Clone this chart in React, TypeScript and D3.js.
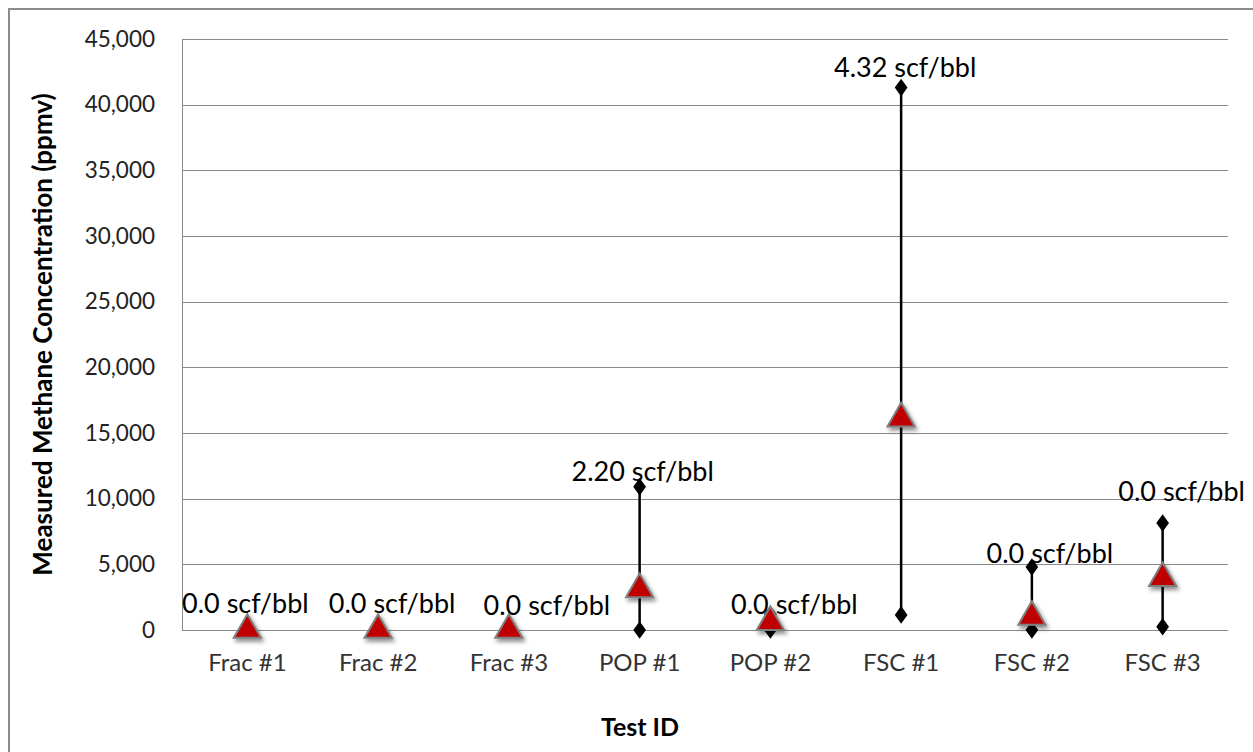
import { useEffect, useRef } from 'react';
import * as d3 from 'd3';

// chart data (ppmv)
const categories = ['Frac #1', 'Frac #2', 'Frac #3', 'POP #1', 'POP #2', 'FSC #1', 'FSC #2', 'FSC #3'];
const highValues = [0, 0, 0, 10900, 1200, 41300, 4800, 8150];
const lowValues = [0, 0, 0, 0, 0, 1150, 0, 250];
const avgValues = [0, 0, 0, 3100, 600, 16100, 1000, 3950];
const rateLabels = [
  '0.0 scf/bbl', '0.0 scf/bbl', '0.0 scf/bbl', '2.20 scf/bbl',
  '0.0 scf/bbl', '4.32 scf/bbl', '0.0 scf/bbl', '0.0 scf/bbl',
];
// where each rate label sits, in ppmv
const labelValues = [1980, 1980, 1830, 12030, 1900, 42790, 5790, 10510];
const yTicks = [0, 5000, 10000, 15000, 20000, 25000, 30000, 35000, 40000, 45000];

// manual label nudges (px), as in the original
const labelNudge = [-2, 14, 38, 3, 24, 4, 18, 19];

const FONT = 'Lato, "Open Sans", sans-serif';

const App = () => {
  const svgRef = useRef(null);

  useEffect(() => {
    const width = 1253;
    const height = 752;
    const margin = { top: 39, right: 25, bottom: 122, left: 182 };
    const svg = d3.select(svgRef.current);
    svg.selectAll('*').remove();
    svg.attr('width', width).attr('height', height);

    const defs = svg.append('defs');
    const filter = defs.append('filter').attr('id', 'shadow')
      .attr('x', '-50%').attr('y', '-50%').attr('width', '200%').attr('height', '200%');
    filter.append('feDropShadow')
      .attr('dx', 2).attr('dy', 3).attr('stdDeviation', 2)
      .attr('flood-color', '#000').attr('flood-opacity', 0.45);

    svg.append('rect').attr('width', width).attr('height', height).attr('fill', '#fff');
    // outer chart border
    svg.append('rect')
      .attr('x', 9).attr('y', 9).attr('width', width + 20).attr('height', height + 20)
      .attr('fill', 'none').attr('stroke', '#8c8c8c').attr('stroke-width', 2);

    const chartW = width - margin.left - margin.right;
    const chartH = height - margin.top - margin.bottom;

    const x = d3.scaleBand().domain(categories).range([0, chartW]);
    const y = d3.scaleLinear().domain([0, 45000]).range([chartH, 0]);

    const g = svg.append('g').attr('transform', `translate(${margin.left},${margin.top})`);

    // gridlines
    g.selectAll('.grid').data(yTicks).enter().append('line')
      .attr('x1', 0).attr('x2', chartW)
      .attr('y1', (d) => Math.round(y(d)) + 0.5).attr('y2', (d) => Math.round(y(d)) + 0.5)
      .attr('stroke', '#8a8a8a').attr('stroke-width', 1);
    g.append('line')
      .attr('x1', 0.5).attr('x2', 0.5).attr('y1', 0).attr('y2', chartH)
      .attr('stroke', '#8a8a8a');

    // y axis labels
    const yAxis = g.append('g').call(
      d3.axisLeft(y).tickValues(yTicks).tickSize(0).tickPadding(27).tickFormat(d3.format(','))
    );
    yAxis.select('.domain').remove();
    yAxis.selectAll('text')
      .attr('font-family', FONT).attr('font-size', 22.5).attr('fill', '#222');

    // x axis labels
    const xAxis = g.append('g').attr('transform', `translate(0,${chartH})`)
      .call(d3.axisBottom(x).tickSize(0).tickPadding(24));
    xAxis.select('.domain').remove();
    xAxis.selectAll('text')
      .attr('font-family', FONT).attr('font-size', 24).attr('fill', '#333');

    const cx = (i) => x(categories[i]) + x.bandwidth() / 2;
    const idx = categories.map((_, i) => i);

    // high-low lines
    g.selectAll('.hl').data(idx).enter().append('line')
      .attr('x1', cx).attr('x2', cx)
      .attr('y1', (i) => y(highValues[i])).attr('y2', (i) => y(lowValues[i]))
      .attr('stroke', '#000').attr('stroke-width', 2.5);

    const diamond = d3.symbol().type(d3.symbolDiamond).size(90);
    const ends = idx.flatMap((i) => [
      { i, v: highValues[i] },
      { i, v: lowValues[i] },
    ]);
    g.selectAll('.dm').data(ends).enter().append('path')
      .attr('d', diamond)
      .attr('transform', (d) => `translate(${cx(d.i)},${y(d.v)}) scale(1.25,1)`)
      .attr('fill', '#000');

    // average triangles
    const tri = d3.symbol().type(d3.symbolTriangle).size(320);
    g.selectAll('.avg').data(idx).enter().append('path')
      .attr('d', tri)
      .attr('transform', (i) => `translate(${cx(i)},${y(avgValues[i])})`)
      .attr('fill', '#c00000').attr('stroke', '#7f7f7f').attr('stroke-width', 2)
      .attr('filter', 'url(#shadow)');

    // rate labels
    g.selectAll('.lbl').data(idx).enter().append('text')
      .attr('x', (i) => cx(i) + labelNudge[i])
      .attr('y', (i) => y(labelValues[i]))
      .attr('dy', '0.35em')
      .attr('text-anchor', 'middle')
      .attr('font-family', FONT).attr('font-size', 27).attr('fill', '#000')
      .text((i) => rateLabels[i]);

    // axis titles
    svg.append('text')
      .attr('x', 640).attr('y', 727).attr('dy', '0.35em')
      .attr('text-anchor', 'middle')
      .attr('font-family', FONT).attr('font-size', 25).attr('font-weight', 'bold')
      .text('Test ID');
    svg.append('text')
      .attr('transform', `translate(43,${margin.top + chartH / 2}) rotate(-90)`)
      .attr('dy', '0.35em')
      .attr('text-anchor', 'middle')
      .attr('font-family', FONT).attr('font-size', 26).attr('font-weight', 'bold')
      .text('Measured Methane Concentration (ppmv)');
  }, []);

  return (
    <div style={{ position: 'absolute', left: 0, top: 0 }}>
      <svg ref={svgRef} style={{ display: 'block' }}></svg>
    </div>
  );
};

export default App;
